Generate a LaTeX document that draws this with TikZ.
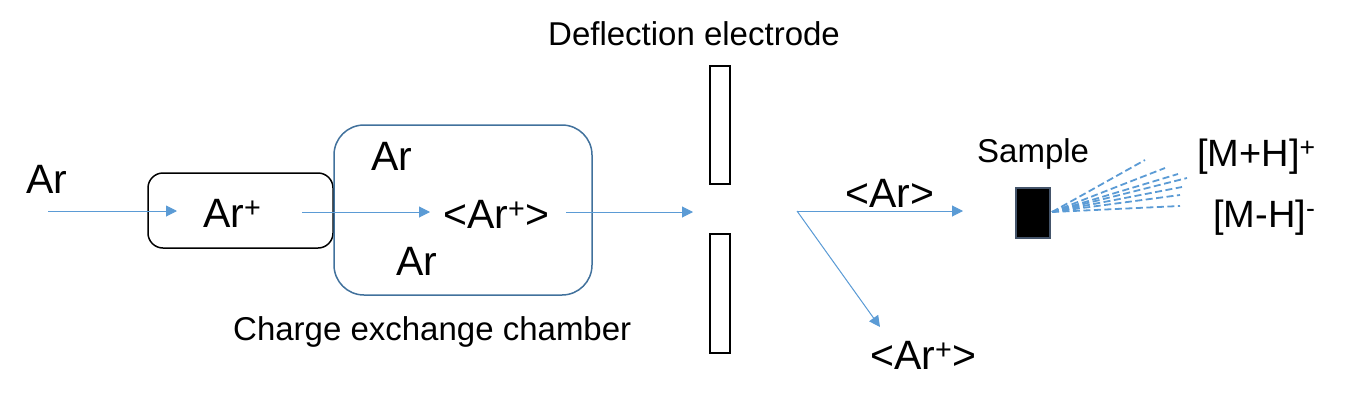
\documentclass[tikz,border=0pt]{standalone}
\usepackage{fontspec}
\setmainfont{Liberation Sans}
\usetikzlibrary{arrows.meta}
\definecolor{beam}{HTML}{5B9BD5}
\definecolor{chamb}{HTML}{41719C}
\definecolor{slate}{HTML}{44546A}
\begin{document}
\begin{tikzpicture}[x=1pt,y=-1pt,
  big/.style={inner sep=0pt,anchor=base west,font=\fontsize{41}{48}\selectfont},
  mid/.style={inner sep=0pt,anchor=base west,font=\fontsize{33}{40}\selectfont},
  ion/.style={inner sep=0pt,anchor=base west,font=\fontsize{38}{44}\selectfont},
  beamarrow/.style={draw=beam,line width=1pt,-{Triangle[length=11pt,width=11pt]},fill=beam},
  fan/.style={draw=beam,line width=1.8pt,dash pattern=on 7pt off 3.5pt},
  electrodebox/.style={draw=black,line width=1.5pt}
]
\useasboundingbox (0,0) rectangle (1357,407);
% boxes
\draw[line width=1.5pt,rounded corners=15pt] (148,173) rectangle (333,248);
\draw[draw=chamb,line width=1.5pt,rounded corners=30pt] (334,125) rectangle (592,295);
\draw[electrodebox] (710,66) rectangle (730,184);
\draw[electrodebox] (710,234) rectangle (730,353);
\draw[draw=slate,fill=black,line width=1.5pt] (1016,188) rectangle (1050,238);
% texts
\node[big] (ar0) at (26,193) {Ar};
\node[big] (arp) at (203,227) {Ar\textsuperscript{+}};
\node[big] (ar1) at (371,170) {Ar};
\node[big] (arc) at (443,228) {<Ar\textsuperscript{+}>};
\node[big] (ar2) at (396,275) {Ar};
\node[big] (arn) at (845,207) {<Ar>};
\node[big] (arq) at (870,369) {<Ar\textsuperscript{+}>};
\node[mid] (defl) at (548,45) {Deflection electrode};
\node[mid] (cham) at (233,340) {Charge exchange chamber};
\node[mid] (samp) at (977,162) {Sample};
\node[ion] (mh1) at (1197,166) {[M+H]\textsuperscript{+}};
\node[ion] (mh2) at (1213,227) {[M-H]\textsuperscript{-}};
% beam coordinates
\coordinate (s1) at (48,211);  \coordinate (e1) at (177,211);
\coordinate (s2) at (302,212); \coordinate (e2) at (430,212);
\coordinate (s3) at (566,212); \coordinate (e3) at (693,212);
\coordinate (s4) at (797,211); \coordinate (e4) at (963,211);
\coordinate (e5) at (880,327);
\draw[beamarrow] (s1) -- (e1);
\draw[beamarrow] (s2) -- (e2);
\draw[beamarrow] (s3) -- (e3);
\draw[beamarrow] (s4) -- (e4);
\draw[beamarrow] (s4) -- (e5);
% fan
\coordinate (apex) at (1052,212);
\foreach \x/\y in {1145/160,1165/168,1178/174,1187/178,1182/187,1180/195,1180/206}
  \draw[fan] (apex) -- (\x,\y);
\end{tikzpicture}
\end{document}
